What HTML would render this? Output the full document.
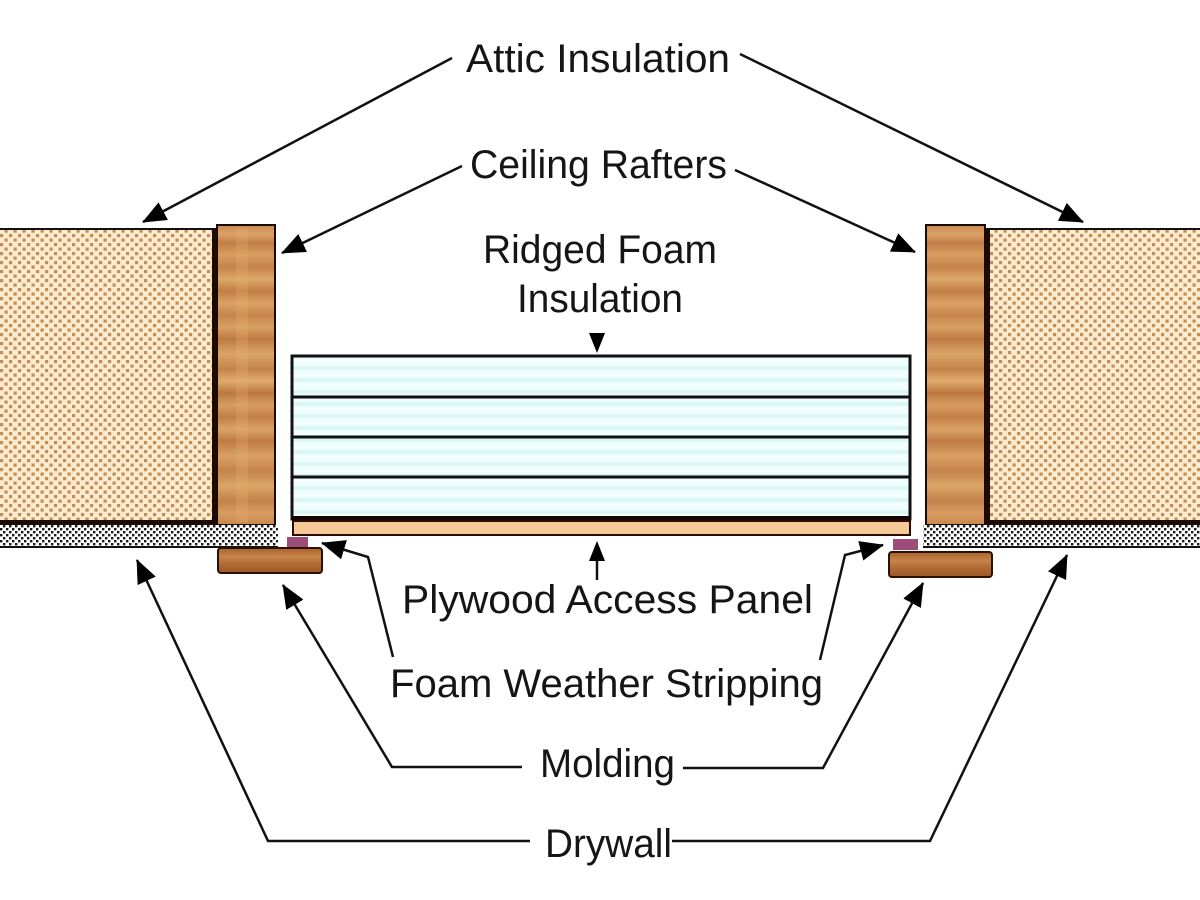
<!DOCTYPE html>
<html>
<head>
<meta charset="utf-8">
<style>
  html,body{margin:0;padding:0;background:#fff;}
  svg{display:block;}
  text{font-family:"Liberation Sans", Arial, sans-serif;font-size:40px;fill:#151515;}
</style>
</head>
<body>
<svg width="1200" height="900" viewBox="0 0 1200 900" xmlns="http://www.w3.org/2000/svg">
  <defs>
    <pattern id="ins" width="9" height="9" patternUnits="userSpaceOnUse">
      <rect width="9" height="9" fill="#fdebd0"/>
      <rect x="0" y="0" width="3.2" height="3.2" fill="#c48d55"/>
      <rect x="4.5" y="4.5" width="3.2" height="3.2" fill="#c48d55"/>
    </pattern>
    <pattern id="dry" width="6" height="6" patternUnits="userSpaceOnUse">
      <rect width="6" height="6" fill="#ffffff"/>
      <rect x="0" y="0" width="2.4" height="2.4" fill="#1a1a1a"/>
      <rect x="3" y="3" width="2.4" height="2.4" fill="#1a1a1a"/>
    </pattern>
    <pattern id="foam" width="10" height="12" patternUnits="userSpaceOnUse">
      <rect width="10" height="12" fill="#effdfc"/>
      <rect y="6" width="10" height="4" fill="#dcf6f3"/>
    </pattern>
    <linearGradient id="wood" x1="0" y1="0" x2="0" y2="1">
      <stop offset="0" stop-color="#c98a55"/>
      <stop offset="0.03" stop-color="#dca266"/>
      <stop offset="0.06" stop-color="#bf7d46"/>
      <stop offset="0.1" stop-color="#d99d60"/>
      <stop offset="0.14" stop-color="#c4834a"/>
      <stop offset="0.18" stop-color="#dea767"/>
      <stop offset="0.22" stop-color="#c07e45"/>
      <stop offset="0.26" stop-color="#dca263"/>
      <stop offset="0.3" stop-color="#c5854b"/>
      <stop offset="0.34" stop-color="#d9a062"/>
      <stop offset="0.38" stop-color="#bd7a42"/>
      <stop offset="0.43" stop-color="#dba566"/>
      <stop offset="0.48" stop-color="#c4834a"/>
      <stop offset="0.52" stop-color="#e0ab6c"/>
      <stop offset="0.56" stop-color="#bb773f"/>
      <stop offset="0.6" stop-color="#d89d60"/>
      <stop offset="0.64" stop-color="#c17f46"/>
      <stop offset="0.68" stop-color="#dca366"/>
      <stop offset="0.72" stop-color="#be7b43"/>
      <stop offset="0.77" stop-color="#daa063"/>
      <stop offset="0.82" stop-color="#c4844b"/>
      <stop offset="0.87" stop-color="#dba566"/>
      <stop offset="0.92" stop-color="#c2824a"/>
      <stop offset="0.96" stop-color="#d89c60"/>
      <stop offset="1" stop-color="#c8884f"/>
    </linearGradient>
    <linearGradient id="mold" x1="0" y1="0" x2="0" y2="1">
      <stop offset="0" stop-color="#a9622c"/>
      <stop offset="0.35" stop-color="#c6854a"/>
      <stop offset="0.6" stop-color="#b16d35"/>
      <stop offset="1" stop-color="#9c5826"/>
    </linearGradient>
    <marker id="ah" viewBox="0 0 24 20" refX="23" refY="10" markerWidth="24" markerHeight="20" markerUnits="userSpaceOnUse" orient="auto">
      <path d="M0,0 L24,10 L0,20 z" fill="#000"/>
    </marker>
  </defs>

  <!-- Left attic insulation -->
  <rect x="0" y="228" width="215" height="295" fill="url(#ins)"/>
  <line x1="0" y1="229" x2="215" y2="229" stroke="#111" stroke-width="2"/>
  <rect x="212" y="228" width="5" height="297" fill="#1c0a04"/>
  <rect x="0" y="520" width="217" height="5" fill="#1c0a04"/>

  <!-- Left rafter -->
  <rect x="217" y="225" width="58" height="300" fill="url(#wood)" stroke="#1a0a02" stroke-width="2"/>
  <rect x="236" y="228" width="12" height="294" fill="#e2b36a" opacity="0.3"/>

  <!-- Left drywall -->
  <rect x="0" y="525" width="278" height="22" fill="url(#dry)"/>
  <line x1="0" y1="547" x2="278" y2="547" stroke="#111" stroke-width="2"/>

  <!-- Right attic insulation -->
  <rect x="986" y="228" width="214" height="295" fill="url(#ins)"/>
  <line x1="986" y1="229" x2="1200" y2="229" stroke="#111" stroke-width="2"/>
  <rect x="985" y="228" width="5" height="297" fill="#1c0a04"/>
  <rect x="985" y="520" width="215" height="5" fill="#1c0a04"/>

  <!-- Right rafter -->
  <rect x="926" y="225" width="59" height="300" fill="url(#wood)" stroke="#1a0a02" stroke-width="2"/>

  <!-- Right drywall -->
  <rect x="923" y="525" width="277" height="22" fill="url(#dry)"/>
  <line x1="923" y1="547" x2="1200" y2="547" stroke="#111" stroke-width="2"/>

  <!-- Rigid foam stack -->
  <rect x="292" y="356" width="618" height="163" fill="url(#foam)" stroke="#111" stroke-width="3"/>
  <line x1="292" y1="397" x2="910" y2="397" stroke="#111" stroke-width="3"/>
  <line x1="292" y1="437" x2="910" y2="437" stroke="#111" stroke-width="3"/>
  <line x1="292" y1="477" x2="910" y2="477" stroke="#111" stroke-width="3"/>
  <rect x="292" y="516" width="618" height="5" fill="#150500"/>

  <!-- Plywood panel -->
  <rect x="293" y="521" width="617" height="14" fill="#f6ca98" stroke="#2a0c00" stroke-width="2"/>

  <!-- Weather stripping -->
  <rect x="287" y="537" width="21" height="11" fill="#9c4d78"/>
  <rect x="893" y="539" width="25" height="11" fill="#9c4d78"/>

  <!-- Molding -->
  <rect x="218" y="548" width="104" height="25" rx="3" fill="url(#mold)" stroke="#2a1000" stroke-width="2"/>
  <rect x="889" y="552" width="103" height="25" rx="3" fill="url(#mold)" stroke="#2a1000" stroke-width="2"/>

  <!-- Connectors -->
  <g fill="none" stroke="#111" stroke-width="2.5">
    <line x1="452" y1="58" x2="143" y2="222" marker-end="url(#ah)"/>
    <line x1="740" y1="54" x2="1083" y2="222" marker-end="url(#ah)"/>
    <line x1="462" y1="166" x2="282" y2="253" marker-end="url(#ah)"/>
    <line x1="735" y1="170" x2="915" y2="252" marker-end="url(#ah)"/>
    <polyline points="393,657 368,557 322,543" marker-end="url(#ah)"/>
    <polyline points="820,660 845,555 883,545" marker-end="url(#ah)"/>
    <polyline points="522,767 392,767 283,585" marker-end="url(#ah)"/>
    <polyline points="683,768 823,768 923,583" marker-end="url(#ah)"/>
    <polyline points="530,841 268,841 137,560" marker-end="url(#ah)"/>
    <polyline points="672,841 930,841 1067,555" marker-end="url(#ah)"/>
    <line x1="597" y1="580" x2="597" y2="558"/>
  </g>
  <!-- small vertical arrowheads -->
  <polygon points="589,333 605,333 597,353" fill="#000"/>
  <polygon points="589,561 605,561 597,541" fill="#000"/>

  <!-- Labels -->
  <text x="466" y="72" textLength="264" lengthAdjust="spacingAndGlyphs">Attic Insulation</text>
  <text x="470" y="178" textLength="257" lengthAdjust="spacingAndGlyphs">Ceiling Rafters</text>
  <text x="483" y="263" textLength="234" lengthAdjust="spacingAndGlyphs">Ridged Foam</text>
  <text x="517" y="312" textLength="166" lengthAdjust="spacingAndGlyphs">Insulation</text>
  <text x="402" y="613" textLength="411" lengthAdjust="spacingAndGlyphs">Plywood Access Panel</text>
  <text x="390" y="697" textLength="433" lengthAdjust="spacingAndGlyphs">Foam Weather Stripping</text>
  <text x="540" y="777" textLength="135" lengthAdjust="spacingAndGlyphs">Molding</text>
  <text x="545" y="857" textLength="127" lengthAdjust="spacingAndGlyphs">Drywall</text>
</svg>
</body>
</html>
